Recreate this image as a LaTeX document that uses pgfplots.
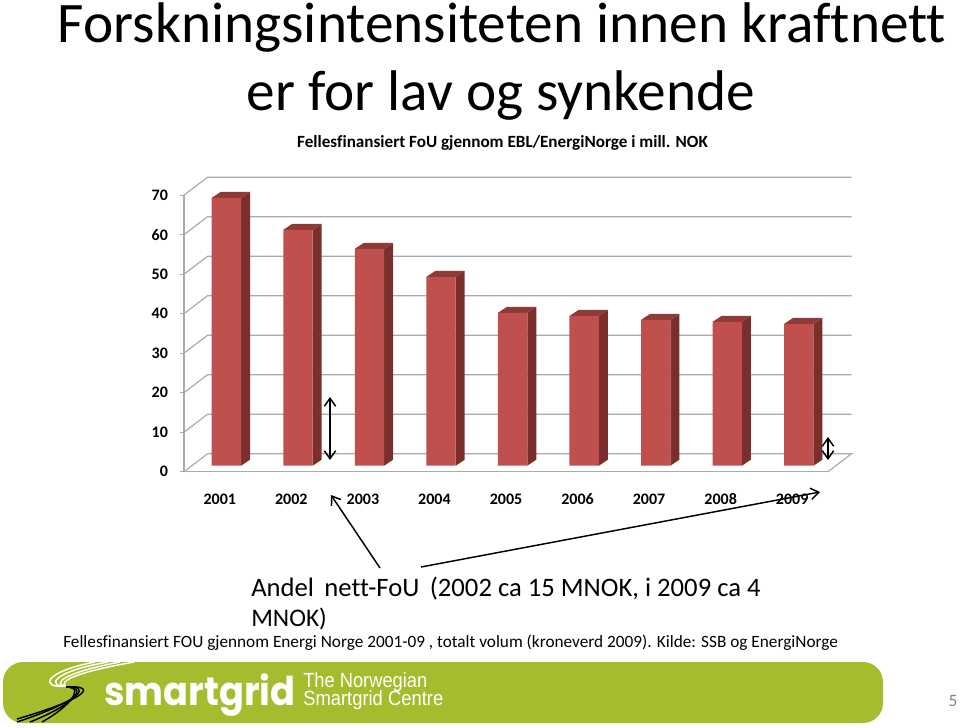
\documentclass[border=0pt]{standalone}
\usepackage{fontspec}
\setmainfont{Carlito}[Ligatures=NoCommon]
\newfontfamily\logofont{Poppins}
\newfontfamily\logotext{Liberation Sans}
\usepackage{pgfplots}
\pgfplotsset{compat=1.18}
\usetikzlibrary{arrows.meta}
\definecolor{barfront}{HTML}{C0504D}
\definecolor{barside}{HTML}{7A2F2D}
\definecolor{bartop}{HTML}{8F3A37}
\definecolor{gridgray}{HTML}{ABABAB}
\definecolor{band}{HTML}{A4BD2E}
\begin{document}
\begin{tikzpicture}[x=0.75pt,y=-0.75pt]
\path[use as bounding box] (0,0) rectangle (960,728);

% band at the bottom
\fill[band,rounded corners=15pt] (3,662) rectangle (883,723);
\begin{scope}[white,line width=1.1pt]
\draw (66,686) .. controls (40,689) and (42,672) .. (95,662);
\draw (66,686) .. controls (47,687) and (50,672) .. (108,662);
\draw (66,686) .. controls (54,685) and (57,674) .. (120,662);
\draw (66,686) .. controls (60,683) and (66,674) .. (134,662);
\end{scope}
\begin{scope}[black,line width=1.1pt]
\draw (66,687) .. controls (96,685) and (92,697) .. (17,719);
\draw (66,687) .. controls (90,685) and (86,699) .. (17,722);
\draw (70,688) .. controls (84,687) and (80,702) .. (30,722);
\draw (72,688) .. controls (79,689) and (74,704) .. (42,722);
\end{scope}
\node[anchor=base west,inner sep=0,white] at (104,705.5)
  {\scalebox{1}[1.08]{\resizebox{143.5pt}{!}{\logofont\bfseries smartgrid}}};
\node[anchor=base west,inner sep=0,white] at (303,687.3)
  {\scalebox{1}[1.12]{\resizebox{93pt}{!}{\logotext The Norwegian}}};
\node[anchor=base west,inner sep=0,white] at (303,705.7)
  {\scalebox{1}[1.12]{\resizebox{105pt}{!}{\logotext Smartgrid Centre}}};
\node[anchor=base,inner sep=0,gray] at (953,706) {\fontsize{13}{13}\selectfont 5};

% heading
\node[anchor=base,inner sep=0] at (502,42)
  {\resizebox{666pt}{!}{\fontsize{40}{40}\selectfont Forskningsintensiteten innen kraftnett}};
\node[anchor=base,inner sep=0] at (501,110)
  {\resizebox{381pt}{!}{\fontsize{40}{40}\selectfont er for lav og synkende}};
\node[anchor=base,inner sep=0] at (502.5,147)
  {\resizebox{308pt}{!}{\fontsize{13}{13}\selectfont\bfseries Fellesfinansiert FoU gjennom EBL/EnergiNorge i mill. NOK}};

\begin{axis}[
  at={(138pt,-353.775pt)},anchor=origin,
  scale only axis,width=483pt,height=207.4pt,
  xmin=0,xmax=9,ymin=0,ymax=70,
  clip=false,
  axis lines*=left,
  axis line style={gridgray,line width=0.9pt,-},
  unbounded coords=jump,
  xtick={0.5,1.5,2.5,3.5,4.5,5.5,6.5,7.5,8.5},
  xticklabels={2001,2002,2003,2004,2005,2006,2007,2008,2009},
  minor xtick={0,1,2,3,4,5,6,7,8,9},
  ytick={0,10,20,30,40,50,60,70},
  xtick style={draw=none},
  minor tick style={gridgray,line width=0.9pt},
  minor tick length=4.5pt,
  ytick style={gridgray,line width=0.9pt},
  tick align=outside,
  major tick length=3pt,
  /pgf/number format/assume math mode=true,
  tick label style={font=\fontsize{12}{12}\selectfont\bfseries},
  xticklabel style={yshift=-10pt},
  yticklabel style={xshift=-5.5pt},
]
% back wall and floor
\addplot[gridgray,line width=0.9pt] coordinates {
  (0,0) (0.33,4.56) (9.33,4.56) (9,0) (nan,nan)
  (0,10) (0.33,14.56) (9.33,14.56) (nan,nan)
  (0,20) (0.33,24.56) (9.33,24.56) (nan,nan)
  (0,30) (0.33,34.56) (9.33,34.56) (nan,nan)
  (0,40) (0.33,44.56) (9.33,44.56) (nan,nan)
  (0,50) (0.33,54.56) (9.33,54.56) (nan,nan)
  (0,60) (0.33,64.56) (9.33,64.56) (nan,nan)
  (0,70) (0.33,74.56) (9.33,74.56)
};
% side faces
\addplot[draw=none,fill=barside,xshift=4.95pt,yshift=4.5pt] coordinates {
  (0.705,0) (0.831,1.52) (0.831,69.32) (0.705,67.8) (nan,nan)
  (1.705,0) (1.831,1.52) (1.831,61.22) (1.705,59.7) (nan,nan)
  (2.705,0) (2.831,1.52) (2.831,56.42) (2.705,54.9) (nan,nan)
  (3.705,0) (3.831,1.52) (3.831,49.32) (3.705,47.8) (nan,nan)
  (4.705,0) (4.831,1.52) (4.831,40.22) (4.705,38.7) (nan,nan)
  (5.705,0) (5.831,1.52) (5.831,39.42) (5.705,37.9) (nan,nan)
  (6.705,0) (6.831,1.52) (6.831,38.42) (6.705,36.9) (nan,nan)
  (7.705,0) (7.831,1.52) (7.831,37.92) (7.705,36.4) (nan,nan)
  (8.705,0) (8.831,1.52) (8.831,37.42) (8.705,35.9)
};
% top faces
\addplot[draw=none,fill=bartop,xshift=4.95pt,yshift=4.5pt] coordinates {
  (0.295,67.8) (0.421,69.32) (0.831,69.32) (0.705,67.8) (nan,nan)
  (1.295,59.7) (1.421,61.22) (1.831,61.22) (1.705,59.7) (nan,nan)
  (2.295,54.9) (2.421,56.42) (2.831,56.42) (2.705,54.9) (nan,nan)
  (3.295,47.8) (3.421,49.32) (3.831,49.32) (3.705,47.8) (nan,nan)
  (4.295,38.7) (4.421,40.22) (4.831,40.22) (4.705,38.7) (nan,nan)
  (5.295,37.9) (5.421,39.42) (5.831,39.42) (5.705,37.9) (nan,nan)
  (6.295,36.9) (6.421,38.42) (6.831,38.42) (6.705,36.9) (nan,nan)
  (7.295,36.4) (7.421,37.92) (7.831,37.92) (7.705,36.4) (nan,nan)
  (8.295,35.9) (8.421,37.42) (8.831,37.42) (8.705,35.9)
};
% front faces
\addplot[ybar,bar width=22pt,draw=none,fill=barfront,xshift=4.95pt,yshift=4.5pt] coordinates {
  (0.5,67.8) (1.5,59.7) (2.5,54.9) (3.5,47.8) (4.5,38.7)
  (5.5,37.9) (6.5,36.9) (7.5,36.4) (8.5,35.9)
};
\end{axis}

% arrows
\begin{scope}[black,line width=1.1pt,arrows={Straight Barb[length=6pt,width=8.5pt,line width=1.1pt]-Straight Barb[length=6pt,width=8.5pt,line width=1.1pt]}]
\draw (330,397) -- (330,460);
\draw (828,437) -- (828,460);
\end{scope}
\begin{scope}[black,line width=1.1pt,-{Straight Barb[length=6pt,width=8.5pt,line width=1.1pt]}]
\draw (380,568) -- (331,495);
\draw (421,567) -- (820,492);
\end{scope}

% text below
\node[anchor=base west,inner sep=0] at (251,596)
  {\resizebox{382pt}{!}{\fontsize{18}{18}\selectfont Andel \,nett-FoU \,(2002 ca 15 MNOK, i 2009 ca 4}};
\node[anchor=base west,inner sep=0] at (251,626)
  {\fontsize{19}{19}\selectfont MNOK)};
\node[anchor=base west,inner sep=0] at (63,647)
  {\resizebox{581pt}{!}{\fontsize{14}{14}\selectfont Fellesfinansiert FOU gjennom Energi Norge 2001-09 , totalt volum (kroneverd 2009). Kilde: SSB og EnergiNorge}};
\end{tikzpicture}
\end{document}
